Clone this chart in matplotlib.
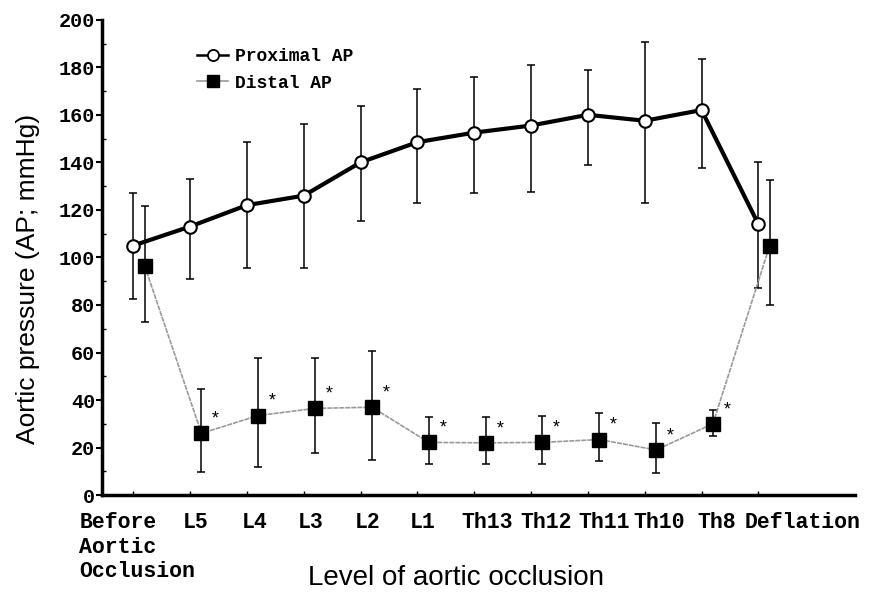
import matplotlib.pyplot as plt
from matplotlib.lines import Line2D
from matplotlib.ticker import MultipleLocator

# levels of aortic occlusion
levels = ['Before\nAortic\nOcclusion', 'L5', 'L4', 'L3', 'L2', 'L1',
          'Th13', 'Th12', 'Th11', 'Th10', 'Th8', 'Deflation']

# proximal AP (mean, upper and lower ends of error bars)
prox_mean = [105, 113, 122, 126, 140, 148.5, 152.5, 155.5, 160, 157.5, 162, 114]
prox_hi = [127, 133, 148.5, 156, 163.5, 171, 176, 181, 179, 190.5, 183.5, 140]
prox_lo = [82.5, 91, 95.5, 95.5, 115.5, 123, 127.3, 127.5, 139, 123, 137.5, 87]

# distal AP
dist_mean = [96.5, 26, 33.5, 36.5, 37, 22.2, 22, 22.2, 23.4, 19, 30, 105]
dist_hi = [121.5, 44.5, 57.5, 57.8, 60.5, 33, 33, 33.3, 34.4, 30.5, 35.8, 132.5]
dist_lo = [73, 9.7, 12, 17.7, 14.7, 13, 12.9, 13.2, 14.5, 9.4, 25, 80]
signif = [False] + [True] * 10 + [False]

mono = 'Liberation Mono'
sans = 'Liberation Sans'

fig = plt.figure(figsize=(8.75, 5.98), dpi=100)
ax = fig.add_axes([0.1166, 0.172, 0.8605, 0.795])

x = list(range(len(levels)))
xd = [i + 0.2 for i in x]

# distal: thin grey line with black squares
ax.errorbar(xd, dist_mean,
            yerr=[[m - l for m, l in zip(dist_mean, dist_lo)],
                  [h - m for m, h in zip(dist_mean, dist_hi)]],
            fmt='none', ecolor='black', elinewidth=1.1, capsize=3, capthick=1.1, zorder=2)
ax.plot(xd, dist_mean, color='#9a9a9a', lw=1.2, ls=(0, (3, 0.6)), zorder=3)
ax.plot(xd, dist_mean, 's', color='black', ms=9.5, zorder=4)

# proximal: thick black line with open circles
ax.errorbar(x, prox_mean,
            yerr=[[m - l for m, l in zip(prox_mean, prox_lo)],
                  [h - m for m, h in zip(prox_mean, prox_hi)]],
            fmt='none', ecolor='black', elinewidth=1.1, capsize=3, capthick=1.1, zorder=2)
ax.plot(x, prox_mean, color='black', lw=3, zorder=3)
ax.plot(x, prox_mean, 'o', mfc='white', mec='black', mew=1.5, ms=9, zorder=5)

# asterisks for significant differences
for xi, m, s in zip(xd, dist_mean, signif):
    if s:
        ax.text(xi + 0.25, m + 6, '*', ha='center', va='center',
                fontsize=13, family=mono)

ax.set_xlim(-0.55, 12.7)
ax.set_ylim(0, 200)

ax.yaxis.set_major_locator(MultipleLocator(20))
ax.yaxis.set_minor_locator(MultipleLocator(10))
ax.tick_params(axis='y', which='major', direction='out', length=4, width=1.5, pad=1)
ax.tick_params(axis='y', which='minor', direction='in', length=3, width=1)
ax.set_yticks(range(0, 201, 20))
ax.set_yticklabels([str(v) for v in range(0, 201, 20)],
                   fontfamily=mono, fontweight='bold', fontsize=14.5)

ax.set_xticks(x)
ax.set_xticklabels([])
ax.tick_params(axis='x', direction='in', length=3, width=1)

# x category labels (first one split so its lower lines sit under the row)
lbl_x = [-0.95, 1.1, 2.14, 3.12, 4.12, 5.1, 6.23, 7.26, 8.28, 9.25, 10.26, 10.75]
xtr = ax.get_xaxis_transform()
lab_kw = dict(fontfamily=mono, fontweight='bold', fontsize=15.5, va='top')
for i, (lx, name) in enumerate(zip(lbl_x, levels)):
    if i == 0:
        first, rest = name.split('\n', 1)
        ax.text(lx, -0.035, first, transform=xtr, ha='left', **lab_kw)
        ax.text(lx, -0.088, rest, transform=xtr, ha='left', linespacing=1.2, **lab_kw)
    else:
        ax.text(lx, -0.035, name, transform=xtr,
                ha='left' if i == 11 else 'center', **lab_kw)

for side in ['top', 'right']:
    ax.spines[side].set_visible(False)
ax.spines['left'].set_linewidth(2.5)
ax.spines['bottom'].set_linewidth(2.5)

fig.text(0.032, 0.533, 'Aortic pressure (AP; mmHg)', rotation=90, ha='center',
         va='center', fontfamily=sans, fontsize=19)
fig.text(0.521, 0.033, 'Level of aortic occlusion', ha='center', va='center',
         fontfamily=sans, fontsize=20)

handles = [
    Line2D([], [], color='black', lw=1.8, marker='o', mfc='white', mec='black',
           mew=1.3, ms=8),
    Line2D([], [], color='#9a9a9a', lw=1.2, marker='s', mfc='black', mec='black', ms=8),
]
leg = ax.legend(handles, ['Proximal AP', 'Distal AP'], loc='upper left',
                bbox_to_anchor=(0.105, 0.975), frameon=False, handlelength=1.7,
                handletextpad=0.4, labelspacing=0.55,
                prop={'family': mono, 'weight': 'bold', 'size': 13})

fig.savefig('out.png', dpi=100)
